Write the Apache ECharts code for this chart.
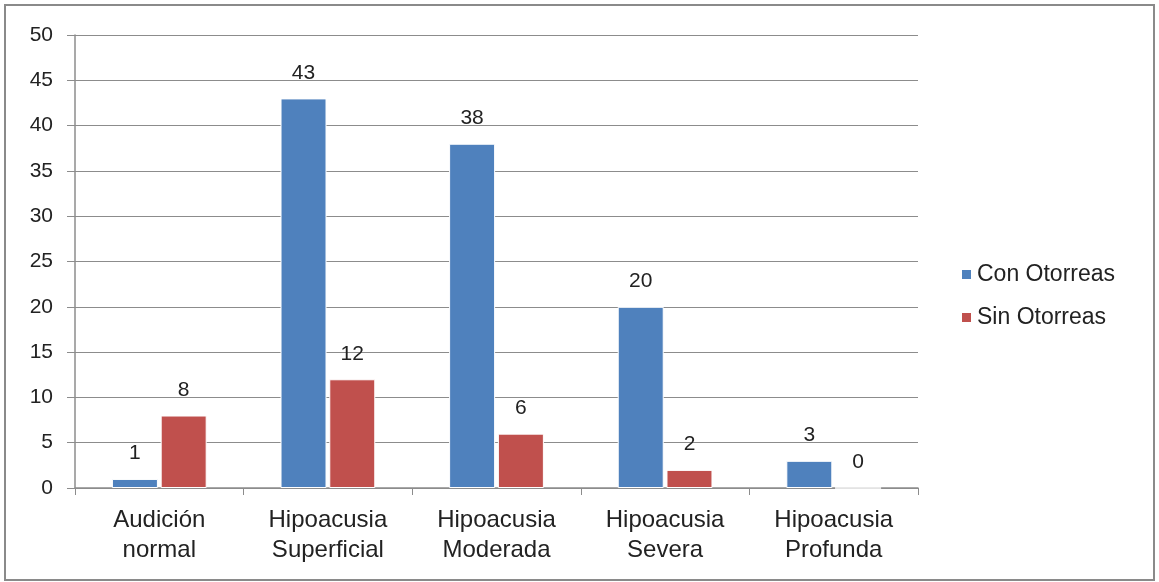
<!DOCTYPE html>
<html>
<head>
<meta charset="utf-8">
<script src="https://cdn.jsdelivr.net/npm/echarts@6/dist/echarts.min.js"></script>
<style>
    html, body { margin: 0; padding: 0; background: #fff; }
    #chart { width: 1159px; height: 582px; }
</style>
</head>
<body>
<div id="chart"></div>
<script>
// datos
let categorias = ['Audición\nnormal', 'Hipoacusia\nSuperficial', 'Hipoacusia\nModerada', 'Hipoacusia\nSevera', 'Hipoacusia\nProfunda'];
let conOtorreas = [1, 43, 38, 20, 3];
let sinOtorreas = [8, 12, 6, 2, 0];
let nombresSeries = ['Con Otorreas', 'Sin Otorreas'];

let myChart = echarts.init(document.getElementById('chart'));

let etiqueta = {
    show: true,
    position: 'top',
    distance: 15,
    color: '#222',
    fontSize: 21,
    fontFamily: 'Liberation Sans'
};

myChart.setOption({
    animation: false,
    textStyle: { fontFamily: 'Liberation Sans' },
    graphic: [{
        type: 'rect',
        shape: { x: 5, y: 5, width: 1149, height: 575 },
        style: { fill: 'none', stroke: '#8a8a8a', lineWidth: 2 }
    }],
    legend: {
        orient: 'vertical',
        left: 955,
        top: 258,
        icon: 'rect',
        itemWidth: 11,
        itemHeight: 11,
        itemGap: 20,
        textStyle: { color: '#222', fontSize: 23 },
        data: nombresSeries
    },
    grid: {
        left: 75,
        right: 241,
        top: 35,
        bottom: 94,
        containLabel: false
    },
    xAxis: {
        type: 'category',
        data: categorias,
        axisLine: { lineStyle: { color: '#8c8c8c', width: 1.5 } },
        axisTick: { show: true, length: 7, lineStyle: { color: '#8c8c8c' } },
        axisLabel: { color: '#222', fontSize: 24, lineHeight: 30, margin: 17 }
    },
    yAxis: {
        type: 'value',
        min: 0,
        max: 50,
        interval: 5,
        axisLine: { show: true, lineStyle: { color: '#8c8c8c', width: 1.5 } },
        axisTick: { show: true, length: 8, lineStyle: { color: '#8c8c8c' } },
        axisLabel: { color: '#222', fontSize: 21, margin: 22 },
        splitLine: { lineStyle: { color: '#8c8c8c', width: 1.2 } }
    },
    series: [
        {
            name: nombresSeries[0],
            type: 'bar',
            data: conOtorreas,
            barWidth: 46,
            barGap: '6%',
            itemStyle: { color: '#4f81bd', borderColor: '#fff', borderWidth: 1 },
            label: etiqueta
        },
        {
            name: nombresSeries[1],
            type: 'bar',
            data: sinOtorreas,
            barWidth: 46,
            barGap: '6%',
            itemStyle: { color: '#c0504d', borderColor: '#fff', borderWidth: 1 },
            label: etiqueta
        }
    ]
});
</script>
</body>
</html>
